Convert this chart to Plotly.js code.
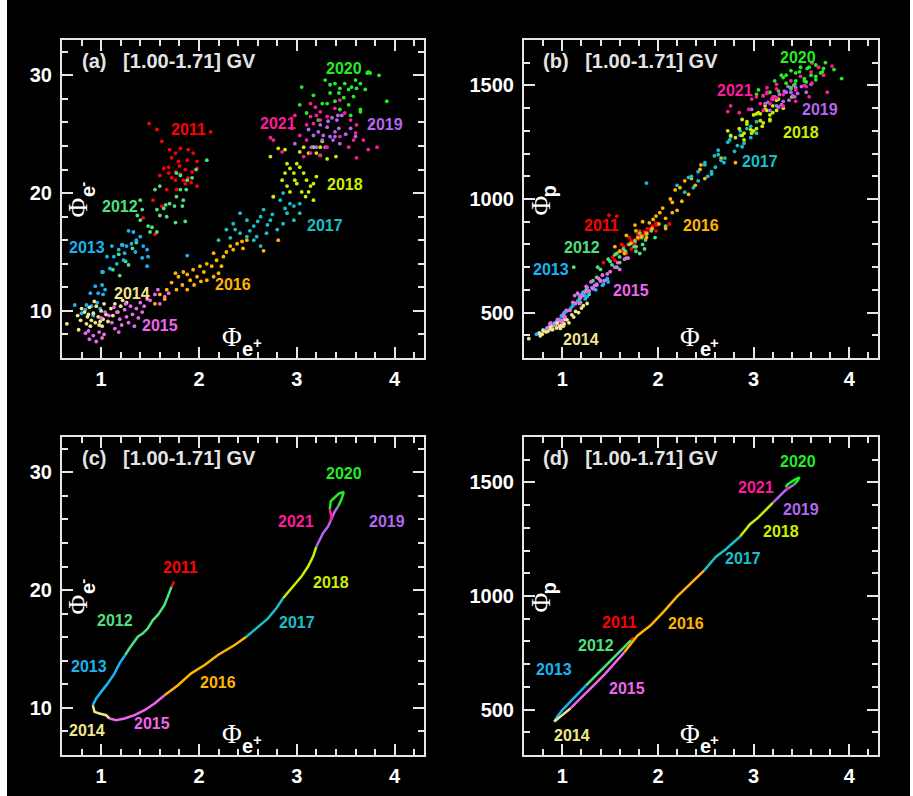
<!DOCTYPE html>
<html><head><meta charset="utf-8">
<script src="https://cdn.plot.ly/plotly-3.0.1.min.js"></script>
<style>html,body{margin:0;padding:0;background:#000;}#chart{width:913px;height:796px;}</style>
</head><body><div id="chart"></div>
<script>
// ---------- categories ----------
const years = ['2011','2012','2013','2014','2015','2016','2017','2018','2019','2020','2021'];
const yearColors = ['#ff0000','#4fe07f','#1ab4f0','#f0e68c','#ee66ee','#ffb400','#16c0c8','#ccee00','#b366ee','#22ee22','#ff1a9a'];

// ---------- daily points: Φe+, Φe-, Φp ----------
const ePos2011 = [1.49,1.57,1.62,2.12,1.70,1.76,1.81,1.89,1.94,1.72,1.79,1.88,1.98,1.64,1.69,1.76,1.81,1.86,1.93,1.98,1.60,1.76,1.84,1.89,1.98,1.67,1.77,1.53,1.62,1.43,1.55,1.72,1.86,1.80,1.69,1.92];
const eNeg2011 = [25.9,25.4,24.4,25.2,23.7,23.4,23.8,23.7,23.4,23.0,22.7,22.8,22.7,22.1,22.2,21.8,21.6,22.0,21.8,22.1,21.5,21.1,21.1,21.3,20.6,20.3,20.3,19.4,18.9,17.9,16.5,21.3,20.8,22.3,21.7,20.9];
const prot2011 = [929,925,800,890,830,815,860,870,880,780,845,850,895,790,800,820,835,855,870,885,770,805,840,850,860,760,790,745,770,720,730,815,845,825,800,865];

const ePos2012 = [1.40,1.42,1.37,1.40,1.48,1.52,1.57,1.60,1.64,1.66,1.70,1.75,1.67,1.76,1.86,1.83,1.84,1.77,1.81,1.87,1.88,1.93,1.97,2.08,1.60,1.55,1.57,1.50,1.77,1.81,1.18,1.25,1.32,1.22,1.12,1.28,1.36,1.19];
const eNeg2012 = [19.4,18.6,18.1,17.7,17.2,17.1,18.6,18.1,18.7,19.0,19.1,18.9,18.0,17.5,17.6,18.9,19.4,19.7,20.3,20.3,21.1,21.3,22.0,22.8,20.6,20.3,16.7,16.7,21.7,21.5,14.8,14.2,15.3,15.6,13.5,13.9,15.8,13.0];
const prot2012 = [690,665,700,640,735,710,760,745,780,770,800,790,740,815,780,830,800,770,850,820,845,860,830,880,720,755,700,725,790,760,560,600,640,590,700,580,655,545];

const ePos2013 = [1.21,1.26,1.31,1.36,1.40,1.43,1.47,1.35,1.24,1.18,1.13,1.16,1.09,1.02,1.28,1.33,1.48,1.42,1.47,1.23,1.88,1.11,1.06,0.94,0.97,1.02,1.01,0.89,1.04,0.85,0.90,0.96,0.84,0.99,0.73,1.01,0.80,0.92];
const eNeg2013 = [15.6,15.5,15.7,16.0,16.3,15.5,15.2,15.0,14.9,15.2,14.6,14.0,13.6,13.3,16.8,16.7,14.6,14.5,13.8,14.3,14.7,15.5,14.6,12.1,11.5,11.4,12.2,11.5,11.8,10.5,10.4,10.7,10.1,10.2,10.5,13.3,9.8,9.6];
const prot2013 = [585,570,610,620,640,625,650,600,560,575,540,550,520,500,590,605,635,620,645,575,1070,530,510,460,470,495,480,445,505,435,440,465,430,485,405,490,425,455];

const ePos2014 = [0.65,0.77,0.76,0.80,0.83,0.86,0.88,0.90,0.92,0.94,0.95,0.97,0.98,1.00,1.02,1.03,1.05,1.07,0.85,0.89,0.79,1.10,1.14,1.17,1.20,1.22,1.26,1.12,0.93,0.99,1.01,0.87];
const eNeg2014 = [8.9,8.4,9.6,10.2,9.9,9.5,10.3,9.2,9.8,9.0,10.4,9.5,8.8,10.0,9.3,10.6,9.7,9.1,8.9,8.7,9.2,10.2,10.6,9.9,10.4,10.9,10.7,9.6,10.8,9.1,8.7,9.7];
const prot2014 = [385,398,410,420,415,428,440,425,445,432,455,440,430,462,450,470,468,455,418,425,405,490,505,500,520,530,540,480,448,445,440,432];

const ePos2015 = [0.84,0.88,0.92,0.95,0.98,1.01,1.03,0.87,1.08,1.11,1.14,1.16,1.19,1.21,1.24,1.26,1.28,1.30,1.32,1.34,1.36,1.38,1.40,1.42,1.25,1.18,1.13,1.44,1.50,1.55,1.60,1.65,1.69,1.47,1.58,1.00,1.04];
const eNeg2015 = [8.1,7.6,7.9,7.4,8.2,7.7,8.0,8.3,9.6,9.0,8.5,9.9,9.3,8.8,10.1,9.5,9.0,10.4,9.7,8.7,10.2,9.4,10.7,9.9,10.6,8.2,10.3,10.4,10.9,11.4,10.6,11.2,11.5,11.0,11.8,9.4,9.9];
const prot2015 = [430,455,445,470,462,490,480,450,510,545,540,585,565,575,590,610,595,635,605,620,625,650,640,665,615,540,575,640,680,700,690,735,740,670,720,465,510];

const ePos2016 = [1.60,1.67,1.72,1.76,1.79,1.84,1.88,1.91,1.94,1.98,2.01,2.05,2.08,2.13,2.15,2.18,2.20,2.23,2.25,2.28,2.32,2.35,2.39,2.44,1.88,1.77,2.08,2.15,1.55,1.65,1.95,2.49,2.45,2.81,2.66,2.02,1.83];
const eNeg2016 = [11.4,11.8,12.4,13.2,12.9,13.3,13.1,12.6,13.5,12.9,13.8,13.3,14.0,13.8,14.9,14.3,13.2,13.8,14.6,15.0,15.5,15.2,15.7,15.9,11.8,11.8,12.6,12.9,10.6,11.0,12.2,16.0,15.3,16.0,15.1,12.5,12.2];
const prot2016 = [770,840,805,885,830,900,850,895,870,925,890,960,915,1000,940,1040,950,1050,990,1080,1020,1090,1060,1130,830,860,870,985,790,760,910,1090,1150,1160,1180,940,835];

const ePos2017 = [2.28,2.35,2.42,2.49,2.56,2.63,2.66,2.73,2.69,2.59,2.42,2.80,2.86,2.90,2.97,2.83,2.76,2.86,2.97,3.03,3.03,2.56,2.63,2.49,2.37,2.32,2.20,2.70,2.75,2.60,2.93,2.88,2.52];
const eNeg2017 = [16.9,17.4,18.3,17.7,17.2,18.0,18.6,17.7,16.6,16.3,16.6,16.9,17.4,18.3,17.7,19.4,19.7,20.0,18.9,18.3,19.1,16.0,15.5,16.3,16.9,16.2,16.0,17.3,18.2,17.6,19.1,18.7,16.8];
const prot2017 = [1030,1100,1080,1150,1120,1215,1170,1250,1160,1190,1120,1210,1280,1245,1320,1235,1275,1300,1270,1340,1290,1110,1195,1160,1050,1095,1060,1180,1260,1140,1310,1230,1100];

const ePos2018 = [2.73,2.81,2.88,2.90,2.93,2.97,3.00,3.03,3.07,3.10,3.14,3.17,3.20,2.90,2.93,3.00,3.05,3.09,3.12,3.17,3.03,3.07,3.12,3.20,3.24,3.17,2.98,2.85,2.88,2.76,3.24,3.26,3.31,3.40];
const eNeg2018 = [23.1,23.8,23.7,22.5,22.1,21.7,22.5,22.2,21.7,21.1,20.6,20.8,21.4,20.6,20.1,20.8,20.1,19.7,20.1,19.4,23.5,23.9,23.4,23.4,23.9,23.9,21.1,21.1,21.7,19.7,23.2,24.4,22.9,23.1];
const prot2018 = [1300,1270,1350,1290,1340,1305,1370,1310,1375,1335,1390,1350,1410,1260,1330,1300,1380,1320,1395,1345,1375,1345,1410,1380,1435,1370,1290,1310,1280,1280,1390,1440,1400,1450];

const ePos2019 = [3.12,3.17,3.22,3.26,3.27,3.31,3.34,3.37,3.39,3.43,3.44,3.32,3.24,3.36,3.41,2.98,3.20,3.29,3.15,3.39,3.42,3.46,3.50,3.55,3.60];
const eNeg2019 = [25.4,24.9,25.2,24.5,24.9,25.6,24.8,24.5,25.2,25.5,24.2,26.1,25.8,26.4,26.2,24.2,23.9,23.9,23.9,24.8,26.6,26.6,25.0,25.5,24.8];
const prot2019 = [1420,1390,1450,1405,1460,1430,1470,1435,1485,1450,1490,1475,1410,1495,1455,1395,1440,1415,1425,1470,1500,1465,1495,1470,1505];

const ePos2020 = [3.05,3.17,3.29,3.34,3.39,3.44,3.49,3.53,3.56,3.60,3.65,3.70,3.75,3.84,3.92,3.43,3.48,3.53,3.58,3.65,3.39,3.31,3.26,3.44,3.55,3.65,3.03,3.72,3.34,3.61,3.73,3.10,3.22];
const eNeg2020 = [29.0,28.3,29.6,29.2,29.3,28.9,29.3,28.8,29.0,29.6,29.3,28.8,30.2,30.0,27.8,28.5,28.1,27.5,28.2,27.1,27.8,27.6,27.6,27.1,26.6,26.9,27.5,30.2,28.5,28.9,30.3,26.8,26.2];
const prot2020 = [1480,1470,1545,1510,1565,1520,1580,1530,1575,1545,1590,1555,1600,1570,1530,1505,1560,1520,1580,1540,1490,1535,1475,1555,1515,1525,1460,1560,1545,1600,1575,1455,1520];

const ePos2021 = [2.98,2.95,2.73,2.76,2.85,3.14,3.19,3.24,3.20,3.14,3.17,3.10,3.24,3.31,3.39,3.44,3.49,3.55,3.60,3.61,3.68,3.73,3.58,3.53,3.44,3.24,3.31,3.61,3.10,3.03,3.07,3.14,3.77,3.82];
const eNeg2021 = [26.6,25.5,24.7,24.5,23.5,27.6,27.3,26.9,26.6,26.5,25.9,25.8,26.2,26.5,27.2,27.9,26.8,26.2,25.1,25.8,24.5,23.7,24.5,23.9,24.8,23.2,23.9,23.0,24.5,24.9,23.1,23.4,25.9,23.9];
const prot2021 = [1440,1395,1385,1410,1380,1490,1440,1505,1450,1470,1420,1455,1485,1460,1520,1480,1540,1495,1560,1510,1580,1545,1450,1500,1430,1445,1410,1600,1390,1450,1420,1465,1470,1585];

// ---------- smoothed trajectories (panels c, d) ----------
const sPos2011 = [1.745,1.72];
const sNeg2011 = [20.73,20.3];
const sPro2011 = [818,806];
const sPos2012 = [1.72,1.682,1.648,1.58,1.529,1.478,1.427,1.375,1.324,1.29,1.246];
const sNeg2012 = [20.3,19.45,18.74,17.89,17.46,16.76,16.33,16.04,15.48,15.06,14.49];
const sPro2012 = [806,790,775,748,728,706,685,662,640,625,605];
const sPos2013 = [1.246,1.188,1.137,1.068,1.0,0.949,0.915];
const sNeg2013 = [14.49,13.78,12.93,12.08,11.36,10.8,10.23];
const sPro2013 = [605,580,558,528,498,470,448];
const sPos2014 = [0.915,0.932,0.983,1.051,1.085];
const sNeg2014 = [10.23,9.66,9.52,9.38,9.1];
const sPro2014 = [448,452,470,492,505];
const sPos2015 = [1.085,1.154,1.239,1.341,1.443,1.546,1.648];
const sNeg2015 = [9.1,8.95,9.1,9.38,9.8,10.37,11.08];
const sPro2015 = [505,535,568,612,655,705,752];
const sPos2016 = [1.648,1.785,1.921,2.058,2.194,2.365,2.484];
const sNeg2016 = [11.08,11.93,12.93,13.64,14.49,15.34,16.04];
const sPro2016 = [752,825,870,930,995,1065,1113];
const sPos2017 = [2.484,2.604,2.706,2.791,2.859];
const sNeg2017 = [16.04,16.89,17.6,18.46,19.31];
const sPro2017 = [1113,1172,1205,1235,1262];
const sPos2018 = [2.859,2.962,3.047,3.115,3.166,3.2];
const sNeg2018 = [19.31,20.3,21.15,22.0,22.85,23.7];
const sPro2018 = [1262,1316,1345,1375,1398,1410];
const sPos2019 = [3.2,3.268,3.319,3.354,3.388,3.422];
const sNeg2019 = [23.7,24.84,25.4,26.12,26.68,27.1];
const sPro2019 = [1410,1440,1460,1472,1482,1490];
const sPos2020 = [3.422,3.456,3.48,3.43,3.37,3.347,3.337];
const sNeg2020 = [27.1,27.68,28.33,28.19,27.74,27.53,26.83];
const sPro2020 = [1490,1505,1522,1512,1495,1488,1478];
const sPos2021 = [3.337,3.354,3.347];
const sNeg2021 = [26.83,26.26,25.83];
const sPro2021 = [1478,1472,1466];

// ---------- tick labels ----------
const xTickVals = [1,2,3,4];
const xTickText = ['1','2','3','4'];
const yeTickVals = [10,20,30];
const yeTickText = ['10','20','30'];
const ypTickVals = [500,1000,1500];
const ypTickText = ['500','1000','1500'];

// panel label text
const panelTexts = ['(a)','(b)','(c)','(d)'];
const rangeText = '[1.00-1.71] GV';

// ---------- assemble ----------
const ePos = [ePos2011,ePos2012,ePos2013,ePos2014,ePos2015,ePos2016,ePos2017,ePos2018,ePos2019,ePos2020,ePos2021];
const eNeg = [eNeg2011,eNeg2012,eNeg2013,eNeg2014,eNeg2015,eNeg2016,eNeg2017,eNeg2018,eNeg2019,eNeg2020,eNeg2021];
const prot = [prot2011,prot2012,prot2013,prot2014,prot2015,prot2016,prot2017,prot2018,prot2019,prot2020,prot2021];
const sPos = [sPos2011,sPos2012,sPos2013,sPos2014,sPos2015,sPos2016,sPos2017,sPos2018,sPos2019,sPos2020,sPos2021];
const sNeg = [sNeg2011,sNeg2012,sNeg2013,sNeg2014,sNeg2015,sNeg2016,sNeg2017,sNeg2018,sNeg2019,sNeg2020,sNeg2021];
const sPro = [sPro2011,sPro2012,sPro2013,sPro2014,sPro2015,sPro2016,sPro2017,sPro2018,sPro2019,sPro2020,sPro2021];

// year-label anchor positions (data coords) per panel
const labA = [[1.893,25.36],[1.193,18.85],[0.853,15.40],[1.316,11.44],[1.599,8.75],[2.345,12.20],[3.292,17.21],[3.497,20.69],[3.90,25.84],[3.487,30.6],[2.809,25.93]];
const labB = [[1.406,884],[1.203,787],[0.882,690],[1.199,383],[1.721,595],[2.446,884],[3.069,1164],[3.497,1294],[3.693,1392],[3.463,1622],[2.805,1477]];
const labC = [[1.807,21.9],[1.142,17.38],[0.879,13.5],[0.856,8.06],[1.517,8.69],[2.198,12.17],[3.0,17.24],[3.347,20.63],[3.92,25.81],[3.487,29.92],[2.993,25.81]];
const labD = [[1.593,884],[1.352,781],[0.91,677],[1.102,388],[1.676,593],[2.296,877],[2.892,1163],[3.289,1283],[3.498,1383],[3.463,1594],[3.026,1477]];

const traces = [];
years.forEach((yr,i)=>{
  traces.push({type:'scatter',mode:'markers',x:ePos[i],y:eNeg[i],xaxis:'x',yaxis:'y',
    marker:{color:yearColors[i],size:3.8,line:{width:0}},hoverinfo:'skip',showlegend:false});
});
years.forEach((yr,i)=>{
  traces.push({type:'scatter',mode:'markers',x:ePos[i],y:prot[i],xaxis:'x2',yaxis:'y2',
    marker:{color:yearColors[i],size:3.8,line:{width:0}},hoverinfo:'skip',showlegend:false});
});
years.forEach((yr,i)=>{
  traces.push({type:'scatter',mode:'lines',x:sPos[i],y:sNeg[i],xaxis:'x3',yaxis:'y3',
    line:{color:yearColors[i],width:2.5},hoverinfo:'skip',showlegend:false});
});
years.forEach((yr,i)=>{
  traces.push({type:'scatter',mode:'lines',x:sPos[i],y:sPro[i],xaxis:'x4',yaxis:'y4',
    line:{color:yearColors[i],width:2.5},hoverinfo:'skip',showlegend:false});
});

const W = 913, H = 796;
const frameCol = '#e6e6e6';
const sans = 'Liberation Sans, Arial, sans-serif';
const serif = 'Liberation Serif, Times New Roman, serif';
const tickFont = {family:sans,size:20,color:'#ffffff',weight:'bold'};
function xAx(dom, anchor){
  return {domain:dom, anchor:anchor, range:[0.6,4.3], tickmode:'array', tickvals:xTickVals, ticktext:xTickText,
    ticks:'inside', ticklen:11, tickwidth:2, tickcolor:frameCol, showline:true, linecolor:frameCol, linewidth:2,
    mirror:'allticks', showgrid:false, zeroline:false, tickfont:tickFont, ticklabelstandoff:2,
    minor:{ticks:'inside', ticklen:6, tickwidth:2, tickcolor:frameCol, dtick:0.2, tick0:0, showgrid:false}};
}
function yAx(dom, anchor, rng, vals, txt, mdt){
  return {domain:dom, anchor:anchor, range:rng, tickmode:'array', tickvals:vals, ticktext:txt,
    ticks:'inside', ticklen:11, tickwidth:2, tickcolor:frameCol, showline:true, linecolor:frameCol, linewidth:2,
    mirror:'allticks', showgrid:false, zeroline:false, tickfont:tickFont, ticklabelstandoff:4,
    minor:{ticks:'inside', ticklen:6, tickwidth:2, tickcolor:frameCol, dtick:mdt, tick0:0, showgrid:false}};
}
const xDomL = [62/W, 424/W], xDomR = [524/W, 878/W];
const yDomT = [1-358/H, 1-40/H], yDomB = [1-755/H, 1-437/H];

const annotations = [];
const yearFont = c => ({family:sans,size:16,color:c,weight:'bold'});
[[labA,'x','y'],[labB,'x2','y2'],[labC,'x3','y3'],[labD,'x4','y4']].forEach(([lab,xr,yr])=>{
  years.forEach((t,i)=>{
    annotations.push({xref:xr,yref:yr,x:lab[i][0],y:lab[i][1],text:t,showarrow:false,
      xanchor:'center',yanchor:'middle',font:yearFont(yearColors[i])});
  });
});
function note(xd,yd,x,y,text,font,angle){
  const a = {xref:xd,yref:yd,x:x,y:y,xanchor:'center',yanchor:'middle',showarrow:false,text:text,font:font,borderpad:0};
  if(angle) a.textangle = angle;
  annotations.push(a);
}
const phiFont = {family:serif,size:27,color:'#ffffff'};
const subFont = {family:sans,size:20,color:'#ffffff',weight:'bold'};
const supFont = {family:sans,size:15,color:'#ffffff',weight:'bold'};
const panelRefs = [['x','y','e'],['x2','y2','p'],['x3','y3','e'],['x4','y4','p']];
panelRefs.forEach(([xr,yr,kind],k)=>{
  const xd = xr+' domain', yd = yr+' domain';
  annotations.push({xref:xd,yref:yd,x:(kind==='e'?0.05:0.048),y:0.934,xanchor:'left',yanchor:'middle',showarrow:false,
    text:panelTexts[k]+'\u00a0\u00a0\u00a0'+rangeText,
    font:{family:sans,size:20,color:'#e4e4e4',weight:'bold'}});
  // x-axis title Φ e +
  note(xd,yd,0.469,0.066,'Φ',phiFont);
  note(xd,yd,0.512,0.029,'e',subFont);
  note(xd,yd,0.539,0.050,'+',supFont);
  // y-axis title
  if(kind==='e'){
    note(xd,yd,0.044,0.473,'Φ',phiFont,-90);
    note(xd,yd,0.072,0.522,'e',subFont,-90);
    note(xd,yd,0.058,0.548,'-',supFont,-90);
  } else {
    note(xd,yd,0.049,0.481,'Φ',phiFont,-90);
    note(xd,yd,0.072,0.525,'p',subFont,-90);
  }
});

const layout = {
  width:W, height:H, margin:{l:0,r:0,t:0,b:0,pad:0},
  paper_bgcolor:'#000000', plot_bgcolor:'#000000', showlegend:false,
  xaxis:xAx(xDomL,'y'), yaxis:yAx(yDomT,'x',[6,33],yeTickVals,yeTickText,2),
  xaxis2:xAx(xDomR,'y2'), yaxis2:yAx(yDomT,'x2',[300,1700],ypTickVals,ypTickText,100),
  xaxis3:xAx(xDomL,'y3'), yaxis3:yAx(yDomB,'x3',[6,33],yeTickVals,yeTickText,2),
  xaxis4:xAx(xDomR,'y4'), yaxis4:yAx(yDomB,'x4',[300,1700],ypTickVals,ypTickText,100),
  annotations:annotations,
  shapes:[
    {type:'rect',xref:'paper',yref:'paper',x0:0,x1:7/W,y0:0,y1:1,fillcolor:'#ffffff',line:{width:0},layer:'below'},
    {type:'rect',xref:'paper',yref:'paper',x0:910/W,x1:1,y0:0,y1:1,fillcolor:'#ffffff',line:{width:0},layer:'below'}
  ]
};
Plotly.newPlot('chart', traces, layout, {displayModeBar:false, staticPlot:true});
</script></body></html>
